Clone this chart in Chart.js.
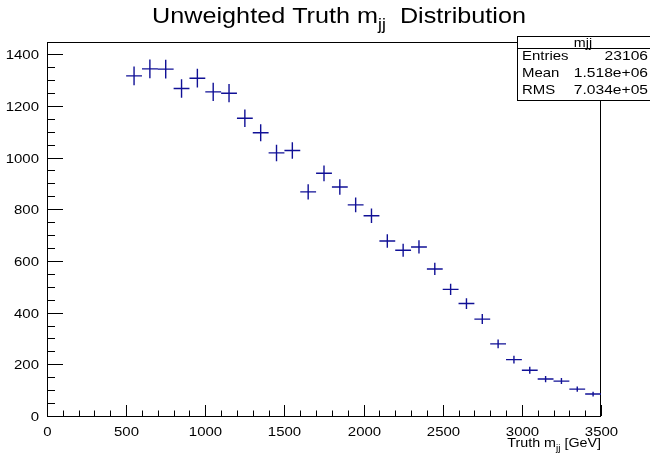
<!DOCTYPE html>
<html>
<head>
<meta charset="utf-8">
<script src="https://cdn.jsdelivr.net/npm/chart.js@4.4.1/dist/chart.umd.min.js"></script>
<style>
  body { margin: 0; background: #fff; }
  #mjj { display: block; }
</style>
</head>
<body>
<canvas id="mjj" width="650" height="457"></canvas>
<script>
'use strict';

// bin centres [GeV] and counts per 100 GeV bin
let binCenters = [550, 650, 750, 850, 950, 1050, 1150, 1250, 1350, 1450,
  1550, 1650, 1750, 1850, 1950, 2050, 2150, 2250, 2350, 2450,
  2550, 2650, 2750, 2850, 2950, 3050, 3150, 3250, 3350, 3450];
let binCounts = [1316, 1343, 1342, 1267, 1307, 1254, 1249, 1152, 1096, 1018,
  1027, 867, 939, 886, 817, 775, 677, 641, 654, 569,
  490, 435, 375, 279, 218, 177, 143, 135, 104, 85];
let binWidth = 100;

// stats box
let statsName = 'mjj';
let statsLabels = ['Entries', 'Mean', 'RMS'];
let statsValues = ['23106', '1.518e+06', '7.034e+05'];

// axis ticks: labelled every major step, minor marks in between
let xMajor = 500;
let xMinor = 100;
let yMajor = 200;
let yMinor = 50;
let xMax = 3500;
let yTop = 1400;

let points = [];
for (let i = 0; i < binCenters.length; i++) {
  points.push({ x: binCenters[i], y: binCounts[i] });
}

const FONT = '"Liberation Sans", Arial, sans-serif';
const MARKER = 'rgb(16,16,150)';

// text with subscript parts at odd indexes, e.g. ['Truth m', 'jj', ' [GeV]']
function drawSubText(ctx, parts, x, y, size, align, stretch) {
  ctx.save();
  ctx.textBaseline = 'alphabetic';
  ctx.textAlign = 'left';
  let widths = [];
  let total = 0;
  for (let i = 0; i < parts.length; i++) {
    let s = (i % 2 === 1) ? size * 0.7 : size;
    ctx.font = s + 'px ' + FONT;
    let w = ctx.measureText(parts[i]).width;
    widths.push(w);
    total += w;
  }
  total *= stretch;
  let start = x;
  if (align === 'center') start = x - total / 2;
  if (align === 'right') start = x - total;
  ctx.translate(start, y);
  ctx.scale(stretch, 1);
  let pos = 0;
  for (let i = 0; i < parts.length; i++) {
    let sub = i % 2 === 1;
    let s = sub ? size * 0.7 : size;
    ctx.font = s + 'px ' + FONT;
    ctx.fillText(parts[i], pos, sub ? size * 0.3 : 0);
    pos += widths[i];
  }
  ctx.restore();
}

function tickList(max, step) {
  let list = [];
  for (let v = 0; v <= max; v += step) list.push({ value: v });
  return list;
}

const histoDecor = {
  id: 'histoDecor',
  afterDraw(chart) {
    const ctx = chart.ctx;
    const area = chart.chartArea;
    const xs = chart.scales.x;
    const ys = chart.scales.y;
    ctx.save();
    ctx.fillStyle = '#000';

    // frame
    ctx.strokeStyle = '#000';
    ctx.lineWidth = 1;
    ctx.strokeRect(area.left + 0.5, area.top + 0.5, area.right - area.left - 1, area.bottom - area.top);

    // ticks drawn inward, ROOT style, with labels on the majors
    ctx.beginPath();
    xs.ticks.forEach(function (t) {
      let px = Math.round(xs.getPixelForValue(t.value)) + 0.5;
      let major = t.value % xMajor === 0;
      ctx.moveTo(px, area.bottom);
      ctx.lineTo(px, area.bottom - (major ? 11 : 5.5));
      if (major) drawSubText(ctx, [String(t.value)], px, 436, 13, 'center', 1.15);
    });
    ys.ticks.forEach(function (t) {
      let py = Math.round(ys.getPixelForValue(t.value)) + 0.5;
      let major = t.value % yMajor === 0;
      ctx.moveTo(area.left, py);
      ctx.lineTo(area.left + (major ? 16 : 8), py);
      if (major) drawSubText(ctx, [String(t.value)], 39, py + 4.5, 13, 'right', 1.15);
    });
    ctx.stroke();

    // crosses: full bin width, sqrt(N) error
    ctx.strokeStyle = MARKER;
    ctx.lineWidth = 1.4;
    ctx.beginPath();
    for (let i = 0; i < binCenters.length; i++) {
      let c = binCenters[i];
      let n = binCounts[i];
      let err = Math.sqrt(n);
      let cy = ys.getPixelForValue(n);
      let cx = xs.getPixelForValue(c);
      ctx.moveTo(xs.getPixelForValue(c - binWidth / 2), cy);
      ctx.lineTo(xs.getPixelForValue(c + binWidth / 2), cy);
      ctx.moveTo(cx, ys.getPixelForValue(n + err));
      ctx.lineTo(cx, ys.getPixelForValue(n - err));
    }
    ctx.stroke();

    // title and axis title
    ctx.fillStyle = '#000';
    drawSubText(ctx, ['Unweighted Truth m', 'jj', '  Distribution'], 339, 23, 22.5, 'center', 1.12);
    drawSubText(ctx, ['Truth m', 'jj', ' [GeV]'], area.right, 447, 13, 'right', 1.1);

    // stats box
    let bx = 517.5, by = 36.5, bw = 140, hh = 12, bh = 64;
    ctx.fillStyle = '#fff';
    ctx.fillRect(bx, by, bw, bh);
    ctx.strokeStyle = '#000';
    ctx.lineWidth = 1;
    ctx.strokeRect(bx, by, bw, bh);
    ctx.beginPath();
    ctx.moveTo(bx, by + hh);
    ctx.lineTo(bx + bw, by + hh);
    ctx.stroke();
    ctx.fillStyle = '#000';
    drawSubText(ctx, [statsName], 583, by + 10, 13, 'center', 1.1);
    for (let i = 0; i < statsLabels.length; i++) {
      let ty = by + 23 + i * 17;
      drawSubText(ctx, [statsLabels[i]], 522, ty, 13, 'left', 1.15);
      drawSubText(ctx, [statsValues[i]], 648, ty, 13, 'right', 1.2);
    }
    ctx.restore();
  }
};

const ctx = document.getElementById('mjj');
const myChart = new Chart(ctx, {
  type: 'scatter',
  data: {
    datasets: [{
      label: statsName,
      data: points,
      pointRadius: 0,
      showLine: false
    }]
  },
  options: {
    responsive: false,
    animation: false,
    layout: { padding: { top: 42, right: 49, left: 0, bottom: 0 } },
    plugins: {
      legend: { display: false },
      tooltip: { enabled: false }
    },
    scales: {
      x: {
        type: 'linear',
        min: 0,
        max: xMax,
        grid: { display: false, drawTicks: false },
        border: { display: false },
        afterFit: function (scale) { scale.height = 41; },
        afterBuildTicks: function (scale) { scale.ticks = tickList(xMax, xMinor); },
        ticks: { display: false }
      },
      y: {
        min: 0,
        max: 1447,
        grid: { display: false, drawTicks: false },
        border: { display: false },
        afterFit: function (scale) { scale.width = 47; },
        afterBuildTicks: function (scale) { scale.ticks = tickList(yTop, yMinor); },
        ticks: { display: false }
      }
    }
  },
  plugins: [histoDecor]
});
</script>
</body>
</html>
